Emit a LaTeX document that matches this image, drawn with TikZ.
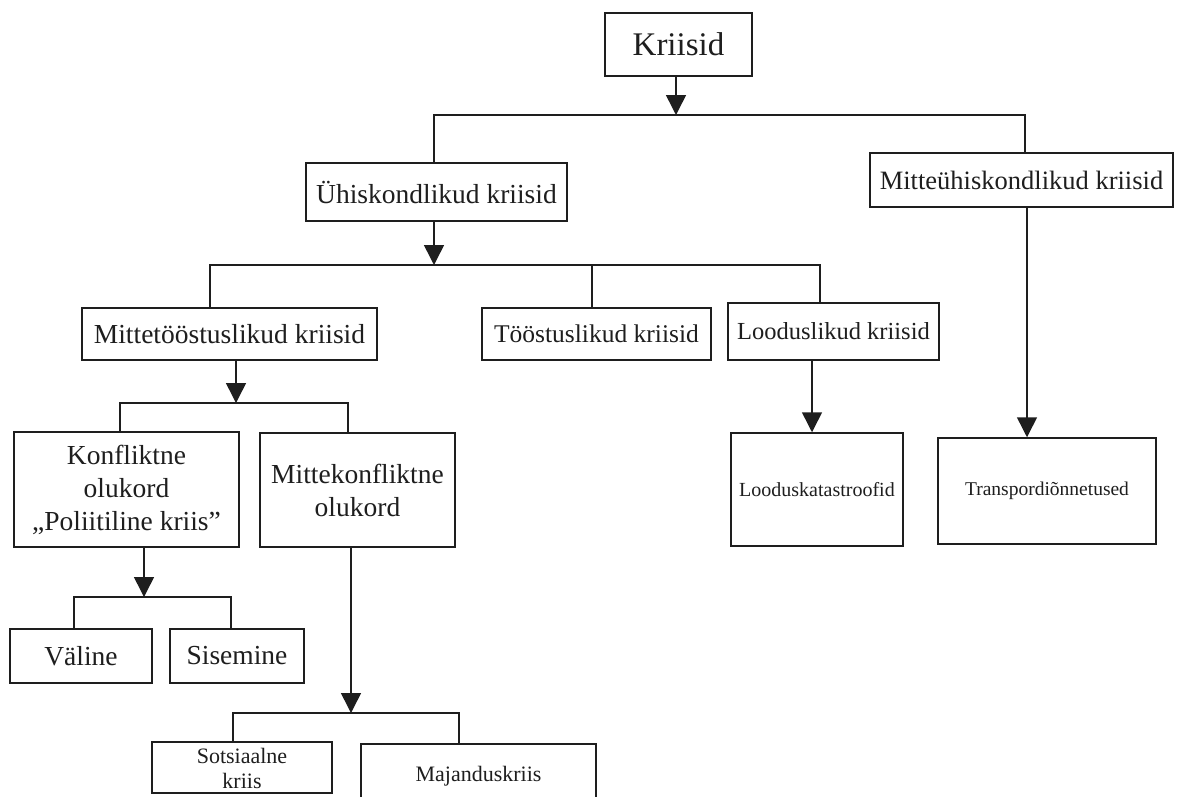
\documentclass[tikz,border=0pt]{standalone}
\usepackage{fontspec}
\setmainfont{Liberation Serif}
\usetikzlibrary{arrows.meta}
\definecolor{ink}{HTML}{1E1E1E}
\tikzset{
  box/.style={draw=ink, line width=1.5pt, fill=white, inner sep=0pt, align=center, text=ink},
  lbl/.style={inner sep=0pt, align=center, text=ink},
  conn/.style={draw=ink, line width=1.5pt},
  arr/.style={conn, -{Triangle[width=20pt,length=20pt]}},
  fbig/.style={font=\fontsize{27.5}{33}\selectfont},
}
\begin{document}
\begin{tikzpicture}[x=1pt,y=-1pt]
\useasboundingbox (0,0) rectangle (1180,796);
\clip (0,0) rectangle (1180,796);
% nodes
\node[box, minimum width=147, minimum height=63, font=\fontsize{33}{38}\selectfont] (kriisid) at (678.5,44.5) {Kriisid};
\node[box, fbig, minimum width=261, minimum height=58] (uhis) at (436.5,192) {Ühiskondlikud kriisid};
\node[box, minimum width=303, minimum height=54, font=\fontsize{26.5}{31}\selectfont] (mitteuhis) at (1021.5,180) {Mitteühiskondlikud kriisid};
\node[box, fbig, minimum width=295, minimum height=52] (mittet) at (229.5,334) {Mittetööstuslikud kriisid};
\node[box, minimum width=229, minimum height=52, font=\fontsize{25.5}{30}\selectfont] (toost) at (596.5,334) {Tööstuslikud kriisid};
\node[box, minimum width=211, minimum height=57, font=\fontsize{24.5}{29}\selectfont] (loodus) at (833.5,331.5) {Looduslikud kriisid};
\node[box, minimum width=172, minimum height=113, font=\fontsize{20}{24}\selectfont] (loodkat) at (817,489.5) {Looduskatastroofid};
\node[box, minimum width=218, minimum height=106, font=\fontsize{19.5}{23}\selectfont] (transp) at (1047,491) {Transpordiõnnetused};
\node[box, fbig, minimum width=225, minimum height=115] (konf) at (126.5,489.5) {Konfliktne\\olukord\\„Poliitiline kriis”};
\node[box, fbig, minimum width=195, minimum height=114] (mittekonf) at (357.5,490) {Mittekonfliktne\\olukord};
\node[box, fbig, minimum width=142, minimum height=54] (valine) at (81,656) {Väline};
\node[box, fbig, minimum width=134, minimum height=54] (sisemine) at (237,656) {Sisemine};
\node[box, minimum width=180, minimum height=51] (sots) at (242,767.5) {};
\node[lbl, font=\fontsize{22}{25}\selectfont] (sotstext) at (242,768) {Sotsiaalne\\kriis};
\node[box, minimum width=235, minimum height=58] (majand) at (478.5,773) {};
\node[lbl, font=\fontsize{22}{25}\selectfont] (majandtext) at (478.5,776) {Majanduskriis};
% bar coordinates
\coordinate (b0) at (676,115);
\coordinate (b0L) at (434,115);
\coordinate (b0R) at (1025,115);
\coordinate (b1) at (434,265);
\coordinate (b1L) at (210,265);
\coordinate (b1M) at (592,265);
\coordinate (b1R) at (820,265);
\coordinate (b2) at (236,403);
\coordinate (b2L) at (120,403);
\coordinate (b2R) at (348,403);
\coordinate (b3) at (144,597);
\coordinate (b3L) at (74,597);
\coordinate (b3R) at (231,597);
\coordinate (b4) at (351,713);
\coordinate (b4L) at (233,713);
\coordinate (b4R) at (459,713);
% level 0
\draw[arr] (kriisid.south -| b0) -- (b0);
\draw[conn] (b0L |- uhis.north) -- (b0L) -- (b0R) -- (b0R |- mitteuhis.north);
% level 1
\draw[arr] (uhis.south -| b1) -- (b1);
\draw[conn] (b1L |- mittet.north) -- (b1L) -- (b1R) -- (b1R |- loodus.north);
\draw[conn] (b1M) -- (b1M |- toost.north);
% right branches
\draw[arr] (loodus.south -| 812,0) -- (loodkat.north -| 812,0);
\draw[arr] (mitteuhis.south -| 1027,0) -- (transp.north -| 1027,0);
% level 2
\draw[arr] (mittet.south -| b2) -- (b2);
\draw[conn] (b2L |- konf.north) -- (b2L) -- (b2R) -- (b2R |- mittekonf.north);
% level 3
\draw[arr] (konf.south -| b3) -- (b3);
\draw[conn] (b3L |- valine.north) -- (b3L) -- (b3R) -- (b3R |- sisemine.north);
% level 4
\draw[arr] (mittekonf.south -| b4) -- (b4);
\draw[conn] (b4L |- sots.north) -- (b4L) -- (b4R) -- (b4R |- majand.north);
\end{tikzpicture}
\end{document}
